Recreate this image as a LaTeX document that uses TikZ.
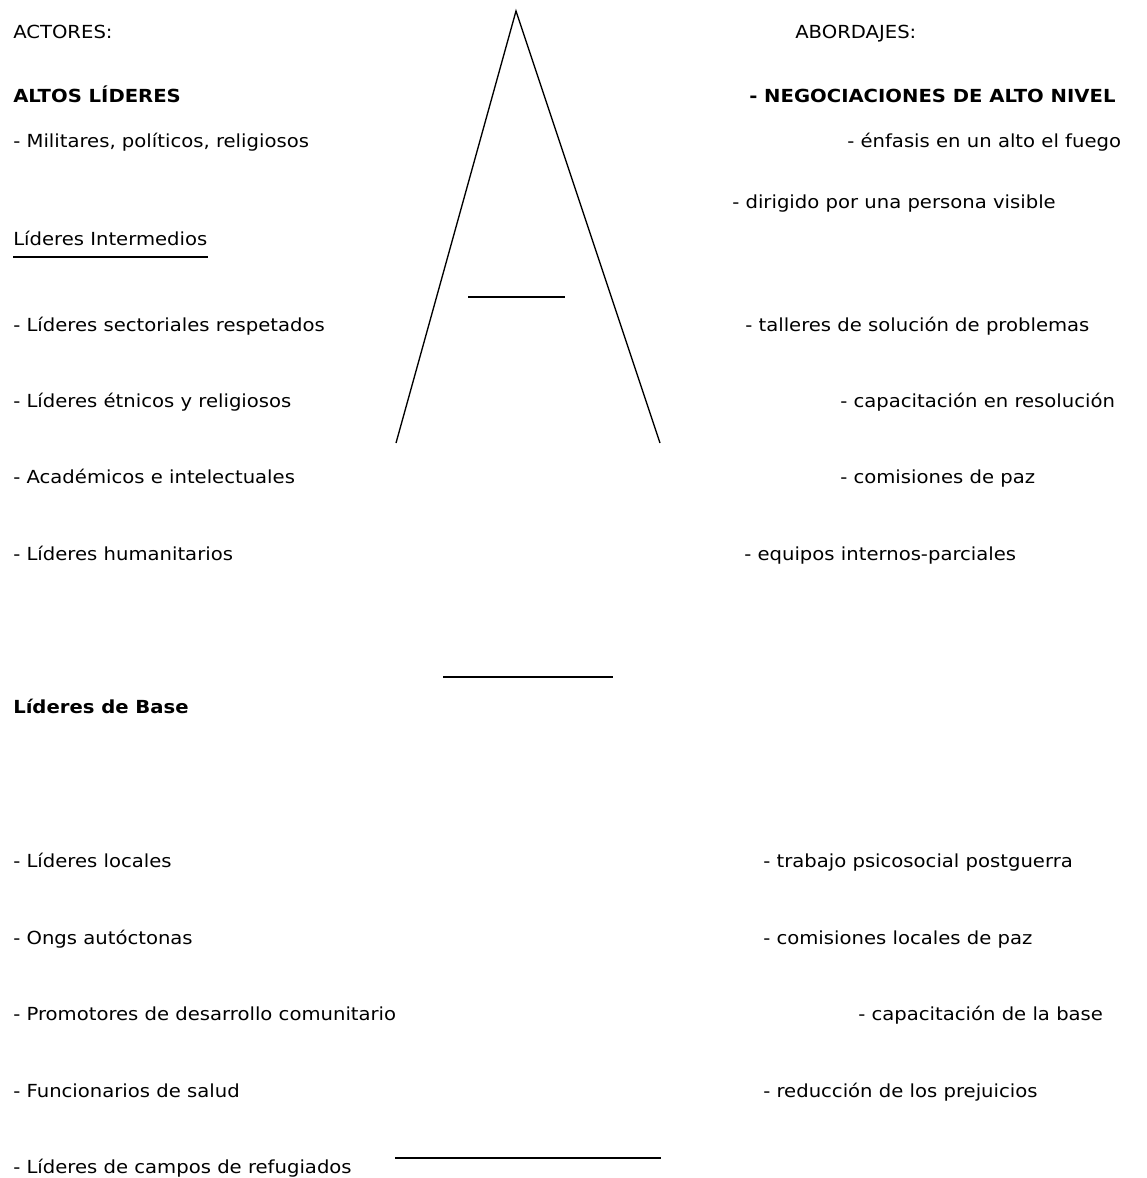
\documentclass[tikz,border=0pt]{standalone}
\usepackage{fontspec}
\setmainfont[FakeStretch=1.09]{DejaVu Sans}

\begin{document}
\begin{tikzpicture}[x=0.75pt, y=-0.75pt,
	item/.style={anchor=base west, inner sep=0pt, font=\fontsize{13.5}{16}\selectfont},
	head/.style={item, font=\fontsize{13.5}{16}\selectfont\bfseries},
	stroke/.style={line width=1pt},
	bar/.style={line width=1.2pt}]

	\useasboundingbox (0,0) rectangle (1146,1178);

	%big A in the middle
	\draw[stroke] (396,443) -- (516,11) -- (660,443);
	\draw[bar] (468,297) -- (565,297);
	%level separators
	\draw[bar] (443,677) -- (613,677);
	\draw[bar] (395,1158) -- (661,1158);

	%actors, left column
	\node[item] (actores) at (13,38) {ACTORES:};
	\node[head] (altos) at (13,102) {ALTOS LÍDERES};
	\node[item] (milit) at (13,147) {- Militares, políticos, religiosos};
	\node[item] (inter) at (13,245) {Líderes Intermedios};
	\draw[bar] ([yshift=-9pt]inter.base west) -- ([yshift=-9pt]inter.base east);
	\node[item] (sector) at (13,331) {- Líderes sectoriales respetados};
	\node[item] (etnic) at (13,407) {- Líderes étnicos y religiosos};
	\node[item] (acad) at (13,483) {- Académicos e intelectuales};
	\node[item] (human) at (13,560) {- Líderes humanitarios};
	\node[head] (base) at (13,713) {Líderes de Base};
	\node[item] (local) at (13,867) {- Líderes locales};
	\node[item] (ongs) at (13,944) {- Ongs autóctonas};
	\node[item] (promo) at (13,1020) {- Promotores de desarrollo comunitario};
	\node[item] (salud) at (13,1097) {- Funcionarios de salud};
	\node[item] (refug) at (13,1173) {- Líderes de campos de refugiados};

	%approaches, right column
	\node[item] (abord) at (795,38) {ABORDAJES:};
	\node[head] (negoc) at (749,102) {- NEGOCIACIONES DE ALTO NIVEL};
	\node[item] (fuego) at (847,147) {- énfasis en un alto el fuego};
	\node[item] (dirig) at (732,208) {- dirigido por una persona visible};
	\node[item] (taller) at (745,331) {- talleres de solución de problemas};
	\node[item] (capres) at (840,407) {- capacitación en resolución};
	\node[item] (comis) at (840,483) {- comisiones de paz};
	\node[item] (equip) at (744,560) {- equipos internos-parciales};
	\node[item] (psico) at (763,867) {- trabajo psicosocial postguerra};
	\node[item] (comloc) at (763,944) {- comisiones locales de paz};
	\node[item] (capbase) at (858,1020) {- capacitación de la base};
	\node[item] (prejui) at (763,1097) {- reducción de los prejuicios};

\end{tikzpicture}
\end{document}
